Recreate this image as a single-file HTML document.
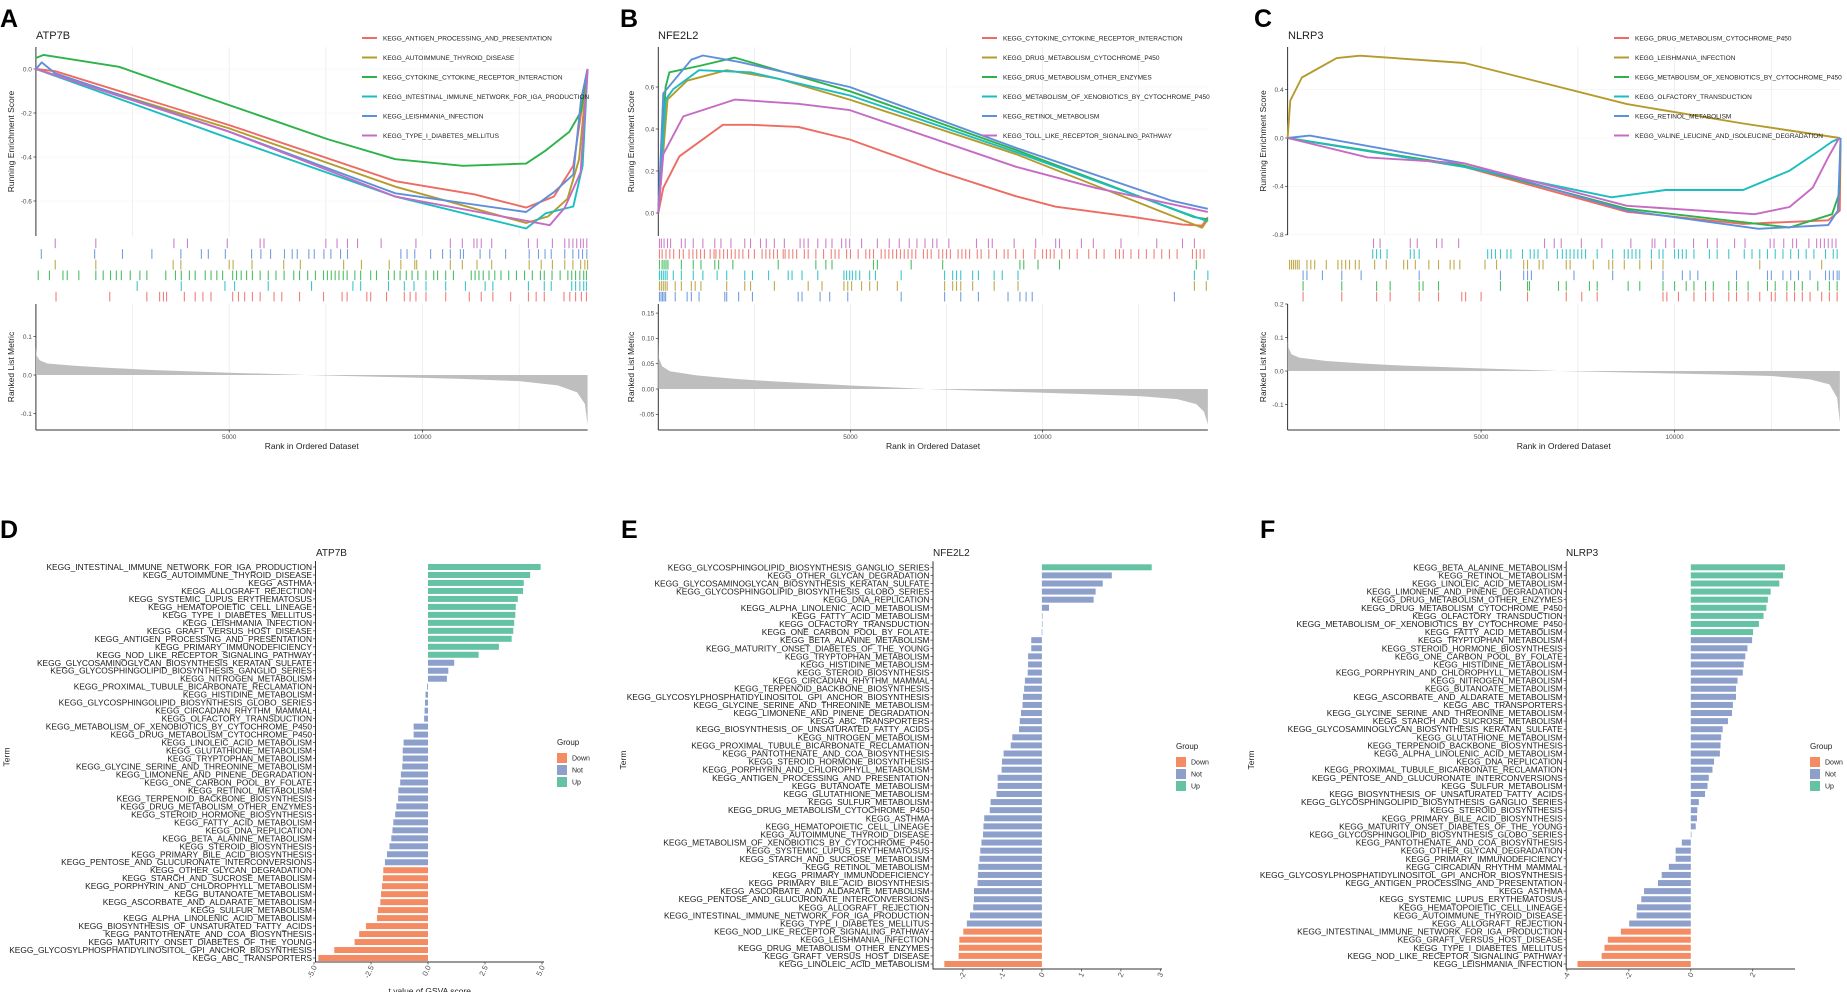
<!DOCTYPE html>
<html><head><meta charset="utf-8">
<style>
html,body{margin:0;padding:0;background:#fff;}
svg{display:block;font-family:"Liberation Sans",Arial,sans-serif;}
</style></head>
<body>
<svg id="fig" width="1847" height="992" viewBox="0 0 1847 992" xmlns="http://www.w3.org/2000/svg"></svg>
<script>
// ---------- GSEA data (ranks in thousands) ----------
const gseaColors = ['#EE6B62','#B59B2C','#2DB34A','#1BBDC1','#5E8FDB','#C66BC4'];

const aTitle = 'ATP7B';
const aTerms = ['KEGG_ANTIGEN_PROCESSING_AND_PRESENTATION','KEGG_AUTOIMMUNE_THYROID_DISEASE','KEGG_CYTOKINE_CYTOKINE_RECEPTOR_INTERACTION','KEGG_INTESTINAL_IMMUNE_NETWORK_FOR_IGA_PRODUCTION','KEGG_LEISHMANIA_INFECTION','KEGG_TYPE_I_DIABETES_MELLITUS'];
const aCurveR = [
 [0,0.5,5,9.3,11.35,12.68,13.4,13.9,14.27],
 [0,5,9.3,12.68,13.25,13.75,14.05,14.27],
 [0,0.2,2.15,5,7.56,9.3,11.04,12.68,13.19,13.8,14.11,14.21,14.27],
 [0,5,9.3,12.68,13.19,13.9,14.14,14.27],
 [0,0.15,0.5,5,9.3,12.68,13.4,13.9,14.1,14.27],
 [0,5,9.3,13.29,13.68,14.09,14.27]];
const aCurveES = [
 [0,-0.01,-0.255,-0.51,-0.57,-0.63,-0.58,-0.44,0],
 [0,-0.27,-0.535,-0.70,-0.67,-0.59,-0.41,0],
 [0.05,0.064,0.01,-0.164,-0.32,-0.41,-0.44,-0.43,-0.37,-0.285,-0.19,-0.05,0],
 [0,-0.315,-0.58,-0.725,-0.656,-0.625,-0.44,0],
 [0,0.03,-0.02,-0.285,-0.565,-0.65,-0.56,-0.48,-0.14,0],
 [0,-0.285,-0.58,-0.71,-0.63,-0.47,0]];
const aHits = [
 [0.52,1.91,2.87,3.2,3.3,3.38,3.84,4.12,4.32,4.53,5.09,5.24,5.4,5.6,5.8,6.16,6.36,6.82,7.44,7.92,8.05,8.56,8.66,9.07,9.53,9.68,9.83,10.09,10.6,11.21,11.52,11.82,12.28,12.74,12.94,13.15,13.66,13.81,13.96,14.11,14.24],
 [0.5,1.55,3.55,3.75,5.0,5.1,5.59,6.41,6.84,7.96,8.42,9.14,9.44,9.8,9.85,10.72,11.03,11.41,11.79,12.76,13.07,13.36,13.68,13.89,14.09,14.2,14.27],
 [0.06,0.35,0.7,0.81,1.11,1.55,1.74,1.93,2.08,2.21,2.44,2.69,2.87,3.36,3.61,3.76,3.97,4.12,4.38,4.53,4.68,4.83,5.09,5.19,5.31,5.45,5.6,5.8,6.01,6.21,6.42,6.67,6.82,7.03,7.23,7.44,7.54,7.64,7.74,7.84,7.95,8.05,8.25,8.4,8.66,8.81,9.12,9.27,9.42,9.58,9.73,9.88,10.09,10.29,10.39,10.6,10.8,11.26,11.36,11.46,11.57,11.72,11.87,12.03,12.23,12.43,12.64,12.84,13.05,13.15,13.35,13.56,13.76,13.86,13.96,14.07,14.17,14.24],
 [2.62,3.76,4.89,5.14,6.01,7.13,8.2,8.4,9.12,9.53,9.78,10.09,10.6,11.11,11.62,11.82,12.74,13.15,13.33,13.86,13.96,14.07,14.17,14.24],
 [0.14,1.52,2.24,3.0,3.75,4.28,4.46,4.9,5.58,5.82,6.07,6.43,6.63,6.76,7.06,7.2,7.45,7.63,7.88,8.06,9.44,9.6,9.8,10.21,10.52,10.72,10.98,11.06,11.49,11.74,12.15,12.76,13.0,13.17,13.33,13.68,13.89,14.04,14.14,14.25],
 [0.5,1.55,3.57,3.92,4.95,5.8,5.9,7.5,7.79,8.06,8.32,8.93,9.83,10.72,11.03,11.33,11.41,11.52,11.79,12.74,12.97,13.36,13.68,13.79,13.89,13.99,14.09,14.16,14.25]];
const aHitOrder = [5,4,1,2,3,0];
const aMetricR = [0,0.02,0.1,0.3,1,2,3,5,7,9,11,12.5,13.5,14,14.2,14.27];
const aMetric = [0.074,0.05,0.038,0.03,0.024,0.018,0.013,0.006,0,-0.005,-0.01,-0.016,-0.027,-0.045,-0.075,-0.13];
const aEsTicks = [0,-0.2,-0.4,-0.6];
const aMetricTicks = [0.1,0,-0.1];

const bTitle = 'NFE2L2';
const bTerms = ['KEGG_CYTOKINE_CYTOKINE_RECEPTOR_INTERACTION','KEGG_DRUG_METABOLISM_CYTOCHROME_P450','KEGG_DRUG_METABOLISM_OTHER_ENZYMES','KEGG_METABOLISM_OF_XENOBIOTICS_BY_CYTOCHROME_P450','KEGG_RETINOL_METABOLISM','KEGG_TOLL_LIKE_RECEPTOR_SIGNALING_PATHWAY'];
const bCurveR = [
 [0,0.13,0.55,1.68,2.4,3.64,4.98,7.26,9.3,10.34,12.4,13.64,14.15,14.3],
 [0,0.24,0.75,1.78,3.12,4.98,9.31,14.15,14.3],
 [0,0.19,0.29,1.06,1.99,4.98,9.31,13.95,14.3],
 [0,0.19,0.39,1.06,2.4,4.98,9.31,14.3],
 [0,0.13,0.86,1.16,2.09,4.98,9.31,13.33,14.3],
 [0,0.13,0.65,1.99,3.64,4.98,9.31,11.37,14.3]];
const bCurveES = [
 [0,0.12,0.27,0.42,0.42,0.41,0.35,0.2,0.08,0.03,-0.02,-0.055,-0.06,-0.02],
 [0,0.54,0.63,0.68,0.64,0.54,0.28,-0.07,-0.03],
 [0,0.6,0.67,0.7,0.74,0.58,0.3,-0.02,-0.03],
 [0,0.54,0.59,0.68,0.67,0.56,0.29,-0.04],
 [0,0.57,0.73,0.75,0.72,0.6,0.31,0.06,0.02],
 [0,0.28,0.46,0.54,0.52,0.49,0.22,0.12,0.005]];
const bHits = [
 [0.03,0.1,0.2,0.3,0.4,0.55,0.65,0.8,0.9,1.0,1.1,1.2,1.35,1.45,1.5,1.6,1.7,1.8,1.9,2.0,2.1,2.2,2.35,2.5,2.7,2.8,2.9,3.0,3.1,3.25,3.3,3.4,3.5,3.6,3.8,3.9,4.1,4.3,4.5,4.6,4.7,4.9,5.0,5.2,5.4,5.5,5.6,5.8,5.9,6.0,6.1,6.2,6.3,6.4,6.5,6.6,6.7,6.9,7.0,7.1,7.3,7.4,7.5,7.6,7.8,7.9,8.0,8.1,8.3,8.4,8.6,8.8,9.0,9.1,9.3,9.5,9.8,10.0,10.1,10.2,10.3,10.5,10.7,10.9,11.2,11.4,11.6,11.9,12.0,12.1,12.3,12.5,12.7,12.9,13.1,13.3,13.5,13.9,14.0,14.1,14.2],
 [0.03,0.08,0.13,0.18,0.23,0.44,0.6,0.86,0.96,1.11,1.78,2.25,2.4,3.02,3.9,4.26,4.83,4.93,5.03,5.29,5.5,5.7,6.22,7.45,7.66,7.76,7.87,8.18,8.74,9.36,13.95,14.26],
 [0.03,0.1,0.15,0.2,0.25,0.6,0.91,1.11,1.47,1.57,1.94,3.12,4.1,4.36,4.52,5.6,5.7,6.58,7.4,9.41,9.51,9.88,10.44,14.0],
 [0.03,0.08,0.13,0.18,0.23,0.39,0.6,0.91,1.16,1.53,1.78,2.25,2.45,2.87,3.38,3.48,3.74,4.15,4.83,4.9,4.98,5.05,5.14,5.24,5.5,5.65,6.32,7.45,7.66,7.76,7.87,8.18,8.33,8.74,8.95,9.36,13.95,14.3],
 [0.03,0.07,0.11,0.15,0.19,0.44,0.75,0.86,1.06,1.73,1.78,2.09,2.45,3.64,3.74,4.21,4.46,4.93,6.32,7.45,7.87,8.33,9.1,9.41,9.57,9.73,13.43],
 [0.03,0.08,0.15,0.24,0.32,0.6,0.7,0.91,1.16,1.47,1.63,1.89,2.25,2.4,2.66,2.81,3.02,3.28,3.69,3.79,3.9,4.15,4.36,4.52,4.77,4.88,4.98,5.29,5.7,6.01,6.27,6.53,6.73,6.94,7.14,7.25,7.56,8.28,8.59,8.69,9.26,9.82,10.34,10.44,11.01,11.32,12.04,12.97,13.64,13.95]];
const bHitOrder = [5,0,2,3,1,4];
const bMetricR = [0,0.02,0.1,0.3,1,2,3,5,7,9,11,12.5,13.5,14,14.2,14.3];
const bMetric = [0.1,0.06,0.045,0.035,0.027,0.02,0.015,0.007,0,-0.005,-0.01,-0.014,-0.02,-0.03,-0.045,-0.07];
const bEsTicks = [0,0.2,0.4,0.6];
const bMetricTicks = [0.15,0.1,0.05,0,-0.05];

const cTitle = 'NLRP3';
const cTerms = ['KEGG_DRUG_METABOLISM_CYTOCHROME_P450','KEGG_LEISHMANIA_INFECTION','KEGG_METABOLISM_OF_XENOBIOTICS_BY_CYTOCHROME_P450','KEGG_OLFACTORY_TRANSDUCTION','KEGG_RETINOL_METABOLISM','KEGG_VALINE_LEUCINE_AND_ISOLEUCINE_DEGRADATION'];
const cCurveR = [
 [0,4.57,8.77,11.77,13.97,14.27,14.29],
 [0,0.07,0.37,1.27,1.87,4.57,8.77,11.77,14.27],
 [0,4.57,8.77,12.97,14.07,14.25,14.29],
 [0,4.57,8.37,9.77,11.77,12.97,13.67,14.07,14.29],
 [0,0.57,4.57,8.77,12.17,13.97,14.22,14.29],
 [0,2.07,4.57,8.77,12.07,12.97,13.57,13.97,14.25]];
const cCurveES = [
 [0,-0.24,-0.61,-0.71,-0.68,-0.6,0],
 [0,0.31,0.5,0.66,0.68,0.62,0.28,0.12,0],
 [0,-0.23,-0.585,-0.74,-0.63,-0.46,0],
 [0,-0.24,-0.49,-0.43,-0.43,-0.27,-0.12,-0.03,0],
 [0,0.02,-0.21,-0.6,-0.75,-0.72,-0.6,0],
 [0,-0.16,-0.21,-0.56,-0.63,-0.57,-0.41,-0.16,0]];
const cHits = [
 [0.4,1.4,2.3,2.65,3.4,3.9,4.5,4.6,5.0,6.2,7.2,7.6,8.0,9.7,9.8,10.1,10.5,10.8,11.0,11.4,11.6,11.9,12.2,12.5,12.6,12.9,13.1,13.3,13.5,13.8,14.0,14.2],
 [0.05,0.1,0.15,0.2,0.25,0.3,0.5,0.6,0.7,1.0,1.3,1.4,1.5,1.6,1.75,1.85,2.25,2.55,3.0,3.1,3.3,3.65,3.9,4.2,4.3,4.45,5.1,5.4,6.1,6.2,6.5,6.6,7.2,7.3,7.9,8.3,8.4,8.7,9.1,9.4,9.7,12.2,13.8],
 [0.4,1.4,2.3,2.65,3.4,3.5,3.9,5.5,6.2,6.25,7.0,7.2,7.8,8.0,8.8,9.1,9.7,10.0,10.3,10.5,10.8,11.0,11.4,11.6,11.9,12.4,12.6,12.9,13.1,13.3,13.7,14.0,14.2],
 [2.2,2.3,2.4,2.57,3.17,3.27,3.4,5.17,5.27,5.37,5.5,5.67,5.77,6.07,6.27,6.37,6.47,6.7,6.97,7.1,7.2,7.3,7.4,7.5,7.6,7.7,8.0,8.4,8.7,8.8,8.9,9.0,9.1,9.4,9.6,9.7,10.0,10.1,10.2,10.3,10.5,10.9,11.1,11.4,11.8,12.0,12.2,12.4,12.6,12.8,13.0,13.2,13.4,13.6,13.9,14.1,14.2],
 [0.4,0.5,0.9,1.4,1.9,3.4,5.5,6.1,6.2,6.3,7.4,8.4,9.7,10.2,10.4,10.6,11.6,12.4,12.5,12.8,13.0,13.2,13.5,13.9,14.0,14.1,14.2,14.25],
 [2.22,2.39,3.17,3.35,3.85,3.99,4.42,6.64,6.89,7.07,7.59,8.12,8.87,9.42,9.49,9.77,9.99,10.49,10.85,11.1,11.55,11.82,12.47,12.57,12.82,13.05,13.15,13.47,13.67,13.77,13.87,13.97,14.07,14.17]];
const cHitOrder = [5,3,1,4,2,0];
const cMetricR = [0,0.02,0.1,0.3,1,2,3,5,7,9,11,12.5,13.5,14,14.2,14.27];
const cMetric = [0.1,0.07,0.05,0.04,0.03,0.022,0.016,0.008,0,-0.005,-0.01,-0.015,-0.025,-0.04,-0.08,-0.155];
const cEsTicks = [0.4,0,-0.4,-0.8];
const cMetricTicks = [0.2,0.1,0,-0.1];

// ---------- GSVA bar data ----------
const dTitle = 'ATP7B';
const dTerms = ['KEGG_INTESTINAL_IMMUNE_NETWORK_FOR_IGA_PRODUCTION','KEGG_AUTOIMMUNE_THYROID_DISEASE','KEGG_ASTHMA','KEGG_ALLOGRAFT_REJECTION','KEGG_SYSTEMIC_LUPUS_ERYTHEMATOSUS','KEGG_HEMATOPOIETIC_CELL_LINEAGE','KEGG_TYPE_I_DIABETES_MELLITUS','KEGG_LEISHMANIA_INFECTION','KEGG_GRAFT_VERSUS_HOST_DISEASE','KEGG_ANTIGEN_PROCESSING_AND_PRESENTATION','KEGG_PRIMARY_IMMUNODEFICIENCY','KEGG_NOD_LIKE_RECEPTOR_SIGNALING_PATHWAY','KEGG_GLYCOSAMINOGLYCAN_BIOSYNTHESIS_KERATAN_SULFATE','KEGG_GLYCOSPHINGOLIPID_BIOSYNTHESIS_GANGLIO_SERIES','KEGG_NITROGEN_METABOLISM','KEGG_PROXIMAL_TUBULE_BICARBONATE_RECLAMATION','KEGG_HISTIDINE_METABOLISM','KEGG_GLYCOSPHINGOLIPID_BIOSYNTHESIS_GLOBO_SERIES','KEGG_CIRCADIAN_RHYTHM_MAMMAL','KEGG_OLFACTORY_TRANSDUCTION','KEGG_METABOLISM_OF_XENOBIOTICS_BY_CYTOCHROME_P450','KEGG_DRUG_METABOLISM_CYTOCHROME_P450','KEGG_LINOLEIC_ACID_METABOLISM','KEGG_GLUTATHIONE_METABOLISM','KEGG_TRYPTOPHAN_METABOLISM','KEGG_GLYCINE_SERINE_AND_THREONINE_METABOLISM','KEGG_LIMONENE_AND_PINENE_DEGRADATION','KEGG_ONE_CARBON_POOL_BY_FOLATE','KEGG_RETINOL_METABOLISM','KEGG_TERPENOID_BACKBONE_BIOSYNTHESIS','KEGG_DRUG_METABOLISM_OTHER_ENZYMES','KEGG_STEROID_HORMONE_BIOSYNTHESIS','KEGG_FATTY_ACID_METABOLISM','KEGG_DNA_REPLICATION','KEGG_BETA_ALANINE_METABOLISM','KEGG_STEROID_BIOSYNTHESIS','KEGG_PRIMARY_BILE_ACID_BIOSYNTHESIS','KEGG_PENTOSE_AND_GLUCURONATE_INTERCONVERSIONS','KEGG_OTHER_GLYCAN_DEGRADATION','KEGG_STARCH_AND_SUCROSE_METABOLISM','KEGG_PORPHYRIN_AND_CHLOROPHYLL_METABOLISM','KEGG_BUTANOATE_METABOLISM','KEGG_ASCORBATE_AND_ALDARATE_METABOLISM','KEGG_SULFUR_METABOLISM','KEGG_ALPHA_LINOLENIC_ACID_METABOLISM','KEGG_BIOSYNTHESIS_OF_UNSATURATED_FATTY_ACIDS','KEGG_PANTOTHENATE_AND_COA_BIOSYNTHESIS','KEGG_MATURITY_ONSET_DIABETES_OF_THE_YOUNG','KEGG_GLYCOSYLPHOSPHATIDYLINOSITOL_GPI_ANCHOR_BIOSYNTHESIS','KEGG_ABC_TRANSPORTERS'];
const dValues = [4.94,4.48,4.2,4.17,3.94,3.85,3.83,3.78,3.74,3.67,3.11,2.22,1.15,0.89,0.83,-0.04,-0.11,-0.13,-0.15,-0.17,-0.63,-0.63,-1.07,-1.11,-1.11,-1.13,-1.19,-1.22,-1.3,-1.31,-1.39,-1.44,-1.52,-1.56,-1.61,-1.69,-1.8,-1.89,-1.96,-1.98,-2.02,-2.06,-2.09,-2.2,-2.24,-2.72,-3.02,-3.22,-4.11,-4.81];
const dGroups = ['Up','Up','Up','Up','Up','Up','Up','Up','Up','Up','Up','Up','Not','Not','Not','Not','Not','Not','Not','Not','Not','Not','Not','Not','Not','Not','Not','Not','Not','Not','Not','Not','Not','Not','Not','Not','Not','Not','Down','Down','Down','Down','Down','Down','Down','Down','Down','Down','Down','Down'];
const dTicks = [-5,-2.5,0,2.5,5];

const eTitle = 'NFE2L2';
const eTerms = ['KEGG_GLYCOSPHINGOLIPID_BIOSYNTHESIS_GANGLIO_SERIES','KEGG_OTHER_GLYCAN_DEGRADATION','KEGG_GLYCOSAMINOGLYCAN_BIOSYNTHESIS_KERATAN_SULFATE','KEGG_GLYCOSPHINGOLIPID_BIOSYNTHESIS_GLOBO_SERIES','KEGG_DNA_REPLICATION','KEGG_ALPHA_LINOLENIC_ACID_METABOLISM','KEGG_FATTY_ACID_METABOLISM','KEGG_OLFACTORY_TRANSDUCTION','KEGG_ONE_CARBON_POOL_BY_FOLATE','KEGG_BETA_ALANINE_METABOLISM','KEGG_MATURITY_ONSET_DIABETES_OF_THE_YOUNG','KEGG_TRYPTOPHAN_METABOLISM','KEGG_HISTIDINE_METABOLISM','KEGG_STEROID_BIOSYNTHESIS','KEGG_CIRCADIAN_RHYTHM_MAMMAL','KEGG_TERPENOID_BACKBONE_BIOSYNTHESIS','KEGG_GLYCOSYLPHOSPHATIDYLINOSITOL_GPI_ANCHOR_BIOSYNTHESIS','KEGG_GLYCINE_SERINE_AND_THREONINE_METABOLISM','KEGG_LIMONENE_AND_PINENE_DEGRADATION','KEGG_ABC_TRANSPORTERS','KEGG_BIOSYNTHESIS_OF_UNSATURATED_FATTY_ACIDS','KEGG_NITROGEN_METABOLISM','KEGG_PROXIMAL_TUBULE_BICARBONATE_RECLAMATION','KEGG_PANTOTHENATE_AND_COA_BIOSYNTHESIS','KEGG_STEROID_HORMONE_BIOSYNTHESIS','KEGG_PORPHYRIN_AND_CHLOROPHYLL_METABOLISM','KEGG_ANTIGEN_PROCESSING_AND_PRESENTATION','KEGG_BUTANOATE_METABOLISM','KEGG_GLUTATHIONE_METABOLISM','KEGG_SULFUR_METABOLISM','KEGG_DRUG_METABOLISM_CYTOCHROME_P450','KEGG_ASTHMA','KEGG_HEMATOPOIETIC_CELL_LINEAGE','KEGG_AUTOIMMUNE_THYROID_DISEASE','KEGG_METABOLISM_OF_XENOBIOTICS_BY_CYTOCHROME_P450','KEGG_SYSTEMIC_LUPUS_ERYTHEMATOSUS','KEGG_STARCH_AND_SUCROSE_METABOLISM','KEGG_RETINOL_METABOLISM','KEGG_PRIMARY_IMMUNODEFICIENCY','KEGG_PRIMARY_BILE_ACID_BIOSYNTHESIS','KEGG_ASCORBATE_AND_ALDARATE_METABOLISM','KEGG_PENTOSE_AND_GLUCURONATE_INTERCONVERSIONS','KEGG_ALLOGRAFT_REJECTION','KEGG_INTESTINAL_IMMUNE_NETWORK_FOR_IGA_PRODUCTION','KEGG_TYPE_I_DIABETES_MELLITUS','KEGG_NOD_LIKE_RECEPTOR_SIGNALING_PATHWAY','KEGG_LEISHMANIA_INFECTION','KEGG_DRUG_METABOLISM_OTHER_ENZYMES','KEGG_GRAFT_VERSUS_HOST_DISEASE','KEGG_LINOLEIC_ACID_METABOLISM'];
const eValues = [2.78,1.77,1.54,1.36,1.31,0.18,0.01,0.005,-0.005,-0.27,-0.27,-0.35,-0.35,-0.36,-0.43,-0.45,-0.48,-0.49,-0.53,-0.56,-0.58,-0.75,-0.79,-0.97,-1.01,-1.02,-1.12,-1.12,-1.15,-1.3,-1.32,-1.46,-1.48,-1.49,-1.53,-1.56,-1.58,-1.61,-1.62,-1.63,-1.72,-1.72,-1.74,-1.82,-1.9,-1.99,-2.09,-2.1,-2.11,-2.47];
const eGroups = ['Up','Not','Not','Not','Not','Not','Not','Not','Not','Not','Not','Not','Not','Not','Not','Not','Not','Not','Not','Not','Not','Not','Not','Not','Not','Not','Not','Not','Not','Not','Not','Not','Not','Not','Not','Not','Not','Not','Not','Not','Not','Not','Not','Not','Not','Down','Down','Down','Down','Down'];
const eTicks = [-2,-1,0,1,2,3];

const fTitle = 'NLRP3';
const fTerms = ['KEGG_BETA_ALANINE_METABOLISM','KEGG_RETINOL_METABOLISM','KEGG_LINOLEIC_ACID_METABOLISM','KEGG_LIMONENE_AND_PINENE_DEGRADATION','KEGG_DRUG_METABOLISM_OTHER_ENZYMES','KEGG_DRUG_METABOLISM_CYTOCHROME_P450','KEGG_OLFACTORY_TRANSDUCTION','KEGG_METABOLISM_OF_XENOBIOTICS_BY_CYTOCHROME_P450','KEGG_FATTY_ACID_METABOLISM','KEGG_TRYPTOPHAN_METABOLISM','KEGG_STEROID_HORMONE_BIOSYNTHESIS','KEGG_ONE_CARBON_POOL_BY_FOLATE','KEGG_HISTIDINE_METABOLISM','KEGG_PORPHYRIN_AND_CHLOROPHYLL_METABOLISM','KEGG_NITROGEN_METABOLISM','KEGG_BUTANOATE_METABOLISM','KEGG_ASCORBATE_AND_ALDARATE_METABOLISM','KEGG_ABC_TRANSPORTERS','KEGG_GLYCINE_SERINE_AND_THREONINE_METABOLISM','KEGG_STARCH_AND_SUCROSE_METABOLISM','KEGG_GLYCOSAMINOGLYCAN_BIOSYNTHESIS_KERATAN_SULFATE','KEGG_GLUTATHIONE_METABOLISM','KEGG_TERPENOID_BACKBONE_BIOSYNTHESIS','KEGG_ALPHA_LINOLENIC_ACID_METABOLISM','KEGG_DNA_REPLICATION','KEGG_PROXIMAL_TUBULE_BICARBONATE_RECLAMATION','KEGG_PENTOSE_AND_GLUCURONATE_INTERCONVERSIONS','KEGG_SULFUR_METABOLISM','KEGG_BIOSYNTHESIS_OF_UNSATURATED_FATTY_ACIDS','KEGG_GLYCOSPHINGOLIPID_BIOSYNTHESIS_GANGLIO_SERIES','KEGG_STEROID_BIOSYNTHESIS','KEGG_PRIMARY_BILE_ACID_BIOSYNTHESIS','KEGG_MATURITY_ONSET_DIABETES_OF_THE_YOUNG','KEGG_GLYCOSPHINGOLIPID_BIOSYNTHESIS_GLOBO_SERIES','KEGG_PANTOTHENATE_AND_COA_BIOSYNTHESIS','KEGG_OTHER_GLYCAN_DEGRADATION','KEGG_PRIMARY_IMMUNODEFICIENCY','KEGG_CIRCADIAN_RHYTHM_MAMMAL','KEGG_GLYCOSYLPHOSPHATIDYLINOSITOL_GPI_ANCHOR_BIOSYNTHESIS','KEGG_ANTIGEN_PROCESSING_AND_PRESENTATION','KEGG_ASTHMA','KEGG_SYSTEMIC_LUPUS_ERYTHEMATOSUS','KEGG_HEMATOPOIETIC_CELL_LINEAGE','KEGG_AUTOIMMUNE_THYROID_DISEASE','KEGG_ALLOGRAFT_REJECTION','KEGG_INTESTINAL_IMMUNE_NETWORK_FOR_IGA_PRODUCTION','KEGG_GRAFT_VERSUS_HOST_DISEASE','KEGG_TYPE_I_DIABETES_MELLITUS','KEGG_NOD_LIKE_RECEPTOR_SIGNALING_PATHWAY','KEGG_LEISHMANIA_INFECTION'];
const fValues = [3.04,2.98,2.86,2.58,2.49,2.44,2.35,2.2,2.01,1.98,1.83,1.76,1.71,1.68,1.51,1.46,1.46,1.36,1.33,1.2,1.03,0.98,0.96,0.94,0.75,0.7,0.58,0.54,0.46,0.26,0.21,0.2,0.16,0.0,-0.29,-0.49,-0.49,-0.71,-0.94,-1.06,-1.51,-1.6,-1.74,-1.75,-1.99,-2.26,-2.68,-2.79,-2.88,-3.66];
const fGroups = ['Up','Up','Up','Up','Up','Up','Up','Up','Up','Not','Not','Not','Not','Not','Not','Not','Not','Not','Not','Not','Not','Not','Not','Not','Not','Not','Not','Not','Not','Not','Not','Not','Not','Not','Not','Not','Not','Not','Not','Not','Not','Not','Not','Not','Not','Down','Down','Down','Down','Down'];
const fTicks = [-4,-2,0,2];

// ---------- helpers ----------
const NS = 'http://www.w3.org/2000/svg';
const svg = document.getElementById('fig');
function mk(tag, attrs, parent, text){
  const e = document.createElementNS(NS, tag);
  for (const k in attrs) e.setAttribute(k, attrs[k]);
  if (text !== undefined) e.textContent = text;
  (parent || svg).appendChild(e);
  return e;
}
const groupColor = {Down:'#F58B63', Not:'#8DA0CB', Up:'#66C2A5'};

function letter(ch, x, y){
  const t = mk('text', {x:x, y:y, 'font-size':25, 'font-weight':'bold', fill:'#000'}, svg, ch);
  
  
}

function gseaPanel(id, L, title, terms, curveR, curveES, hits, hitOrder, metricR, metric, esTicks, metricTicks, metricDec){
  const g = mk('g', {});
  
  
  const xs = r => L.x0 + r * L.pxK;
  const ye = v => L.esY0 - v * L.esPx;
  const ym = v => L.mY0 - v * L.mPx;
  const xEnd = xs(L.rMax);
  [2.5,5,7.5,10,12.5].forEach(r => {
    [[L.esTop, L.esBot],[L.mTop, L.mBot]].forEach(p => {
      const gl = mk('line', {x1:xs(r), x2:xs(r), y1:p[0], y2:p[1], stroke:'#EBEBEB', 'stroke-width':0.8}, g);
      
      
    });
  });
  esTicks.forEach(v => {
    const gl = mk('line', {x1:L.x0, x2:xEnd, y1:ye(v), y2:ye(v), stroke:'#F2F2F2', 'stroke-width':0.6}, g);
    
    
  });
  const tt = mk('text', {x:L.titleX, y:L.titleY, 'font-size':11, fill:'#222'}, g, title);
  
  
  const ax1 = mk('line', {x1:L.x0, x2:L.x0, y1:L.esTop, y2:L.esBot, stroke:'#333', 'stroke-width':1}, g);
  
  
  const ax2 = mk('line', {x1:L.x0, x2:L.x0, y1:L.mTop, y2:L.mBot, stroke:'#333', 'stroke-width':1}, g);
  
  
  const ax3 = mk('line', {x1:L.x0, x2:xEnd, y1:L.mBot, y2:L.mBot, stroke:'#333', 'stroke-width':1}, g);
  
  
  esTicks.forEach(v => {
    mk('line', {x1:L.x0-2.5, x2:L.x0, y1:ye(v), y2:ye(v), stroke:'#333', 'stroke-width':0.7}, g);
    const t = mk('text', {x:L.x0-4, y:ye(v)+2.3, 'font-size':6.5, fill:'#4D4D4D', 'text-anchor':'end'}, g, v.toFixed(1));
    
    
  });
  metricTicks.forEach(v => {
    mk('line', {x1:L.x0-2.5, x2:L.x0, y1:ym(v), y2:ym(v), stroke:'#333', 'stroke-width':0.7}, g);
    const t = mk('text', {x:L.x0-4, y:ym(v)+2.3, 'font-size':6.5, fill:'#4D4D4D', 'text-anchor':'end'}, g, v.toFixed(metricDec));
    
    
  });
  [5,10].forEach(r => {
    mk('line', {x1:xs(r), x2:xs(r), y1:L.mBot, y2:L.mBot+2.5, stroke:'#333', 'stroke-width':0.7}, g);
    const t = mk('text', {x:xs(r), y:L.mBot+9, 'font-size':6.5, fill:'#4D4D4D', 'text-anchor':'middle'}, g, String(r*1000));
    
    
  });
  const xt = mk('text', {x:(L.x0+xEnd)/2, y:L.mBot+19, 'font-size':8.5, fill:'#222', 'text-anchor':'middle'}, g, 'Rank in Ordered Dataset');
  
  
  const yt1 = mk('text', {x:0, y:0, 'font-size':8.5, fill:'#222', 'text-anchor':'middle', transform:`translate(${L.yTitleX},${(L.esTop+L.esBot)/2}) rotate(-90)`}, g, 'Running Enrichment Score');
  
  
  const yt2 = mk('text', {x:0, y:0, 'font-size':8.5, fill:'#222', 'text-anchor':'middle', transform:`translate(${L.yTitleX},${(L.mTop+L.mBot)/2}) rotate(-90)`}, g, 'Ranked List Metric');
  
  
  let d = `M${xs(metricR[0])},${ym(0)}`;
  metricR.forEach((r,i) => { d += ` L${xs(r)},${ym(metric[i])}`; });
  d += ` L${xs(metricR[metricR.length-1])},${ym(0)} Z`;
  const ar = mk('path', {d:d, fill:'#BEBEBE', stroke:'none'}, g);
  
  
  const rowH = (L.hitBot - L.hitTop) / 6;
  hitOrder.forEach((si, row) => {
    const hg = mk('g', {stroke:gseaColors[si], 'stroke-width':1.1, opacity:0.85}, g);
    
    
    hits[si].forEach(r => {
      mk('line', {x1:xs(r), x2:xs(r), y1:L.hitTop + row*rowH + 0.5, y2:L.hitTop + (row+1)*rowH - 0.5}, hg);
    });
  });
  curveR.forEach((rs, si) => {
    const pts = rs.map((r,i) => `${xs(r).toFixed(1)},${ye(curveES[si][i]).toFixed(1)}`).join(' ');
    const pl = mk('polyline', {points:pts, fill:'none', stroke:gseaColors[si], 'stroke-width':1.9, 'stroke-linejoin':'round'}, g);
    
    
  });
  terms.forEach((t, i) => {
    const y = L.legY + i * 19.5;
    const lg = mk('g', {}, g);
    
    
    mk('line', {x1:L.legX, x2:L.legX+15, y1:y, y2:y, stroke:gseaColors[i], 'stroke-width':2}, lg);
    mk('text', {x:0, y:0, 'font-size':6.5, fill:'#222', transform:`translate(${L.legX+21},${y+2.3})`}, lg, t);
  });
}

function barPanel(id, L, title, terms, values, groups, ticks){
  const g = mk('g', {});
  
  
  const xv = v => L.x0 + v * L.px;
  const n = terms.length;
  const step = (L.yLast - L.yFirst) / (n - 1);
  const yc = i => L.yFirst + i * step;
  const tt = mk('text', {x:L.titleX, y:L.titleY, 'font-size':10, fill:'#222'}, g, title);
  
  
  const ax = mk('path', {d:`M${L.axL},${L.yFirst-6} L${L.axL},${L.axB} L${L.axR},${L.axB}`, fill:'none', stroke:'#333', 'stroke-width':1}, g);
  
  
  terms.forEach((t, i) => {
    const v = values[i];
    const x1 = Math.min(xv(0), xv(v)), w = Math.max(Math.abs(xv(v) - xv(0)), 0.6);
    const r = mk('rect', {x:x1, y:yc(i)-3, width:w, height:6, fill:groupColor[groups[i]]}, g);
    
    
    mk('line', {x1:L.axL-2.5, x2:L.axL, y1:yc(i), y2:yc(i), stroke:'#333', 'stroke-width':0.7}, g);
    const lb = mk('text', {x:0, y:0, 'font-size':8.3, fill:'#1a1a1a', 'text-anchor':'end', transform:`translate(${L.axL-3.5},${yc(i)+3}) scale(1.01,1)`}, g, t);
    
    
  });
  ticks.forEach(v => {
    mk('line', {x1:xv(v), x2:xv(v), y1:L.axB, y2:L.axB+2.5, stroke:'#333', 'stroke-width':0.7}, g);
    const lab = L.dec ? v.toFixed(1) : String(v);
    const t = mk('text', {x:0, y:0, 'font-size':7.5, fill:'#4D4D4D', 'text-anchor':'end', transform:`translate(${xv(v)+3},${L.axB+5}) rotate(-65)`}, g, lab);
    
    
  });
  const xt = mk('text', {x:(L.axL+L.axR)/2, y:L.axB+32, 'font-size':8.5, fill:'#222', 'text-anchor':'middle'}, g, 't value of GSVA score');
  
  
  const yt = mk('text', {x:0, y:0, 'font-size':8.5, fill:'#222', 'text-anchor':'middle', transform:`translate(${L.termX},${L.termY}) rotate(-90)`}, g, 'Term');
  
  
  const lg = mk('g', {}, g);
  
  
  mk('text', {x:L.legX, y:L.legY, 'font-size':8, fill:'#222'}, lg, 'Group');
  ['Down','Not','Up'].forEach((k, i) => {
    const y = L.legY + 8 + i * 12;
    mk('rect', {x:L.legX, y:y, width:10, height:10, fill:groupColor[k]}, lg);
    mk('text', {x:L.legX+15, y:y+7.5, 'font-size':7, fill:'#222'}, lg, k);
  });
}

// ---------- draw ----------
letter('A', 0, 27); letter('B', 620, 27); letter('C', 1254, 27);
letter('D', 0, 538); letter('E', 621, 538); letter('F', 1260, 538);

gseaPanel('atp7b', {x0:35.9, pxK:38.66, rMax:14.27, esY0:69, esPx:220, esTop:47, esBot:236, hitTop:238, hitBot:302, mTop:304, mBot:430, mY0:375, mPx:385, titleX:36, titleY:39, yTitleX:14, legX:362, legY:38},
  aTitle, aTerms, aCurveR, aCurveES, aHits, aHitOrder, aMetricR, aMetric, aEsTicks, aMetricTicks, 1);
gseaPanel('nfe2l2', {x0:658.3, pxK:38.43, rMax:14.3, esY0:213, esPx:210, esTop:47, esBot:236, hitTop:238, hitBot:302, mTop:304, mBot:430, mY0:389, mPx:506, titleX:658, titleY:39, yTitleX:634, legX:982, legY:38},
  bTitle, bTerms, bCurveR, bCurveES, bHits, bHitOrder, bMetricR, bMetric, bEsTicks, bMetricTicks, 2);
gseaPanel('nlrp3', {x0:1287.6, pxK:38.7, rMax:14.27, esY0:138, esPx:121, esTop:47, esBot:235, hitTop:238, hitBot:302, mTop:304, mBot:430, mY0:371, mPx:335, titleX:1288, titleY:39, yTitleX:1266, legX:1614, legY:38},
  cTitle, cTerms, cCurveR, cCurveES, cHits, cHitOrder, cMetricR, cMetric, cEsTicks, cMetricTicks, 1);

barPanel('atp7b', {x0:428, px:22.8, yFirst:567, yLast:958, axL:315.5, axR:544, axB:962, titleX:316, titleY:556, termX:9.5, termY:757, legX:557, legY:745, dec:true},
  dTitle, dTerms, dValues, dGroups, dTicks);
barPanel('nfe2l2', {x0:1041.9, px:39.5, yFirst:567.3, yLast:964, axL:933, axR:1162, axB:969, titleX:933, titleY:556, termX:626, termY:760, legX:1176, legY:749, dec:false},
  eTitle, eTerms, eValues, eGroups, eTicks);
barPanel('nlrp3', {x0:1690.8, px:30.96, yFirst:567.3, yLast:964, axL:1566.2, axR:1795, axB:969, titleX:1566, titleY:556, termX:1254, termY:760, legX:1810, legY:749, dec:false},
  fTitle, fTerms, fValues, fGroups, fTicks);
</script>
</body></html>
